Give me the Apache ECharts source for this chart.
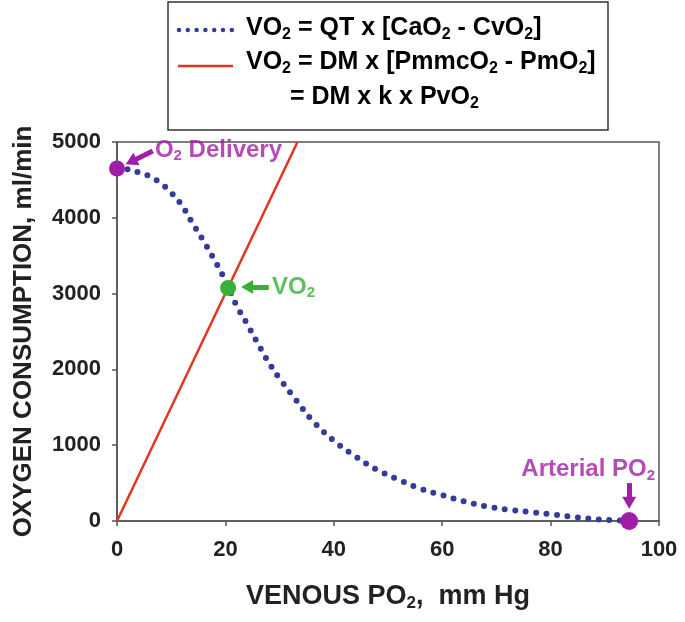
<!DOCTYPE html>
<html>
<head>
<meta charset="utf-8">
<script src="https://cdn.jsdelivr.net/npm/echarts@6/dist/echarts.min.js"></script>
<style>html,body{margin:0;padding:0;background:#fff;}#c{width:685px;height:622px;}</style>
</head>
<body>
<div id="c"></div>
<script>
// ---- data ----
var xTicks = [0, 20, 40, 60, 80, 100];
var yTicks = [0, 1000, 2000, 3000, 4000, 5000];
// VO2 = QT x [CaO2 - CvO2]  (blue dotted curve)
var curvePO2 = [0, 2, 4, 6, 8, 10, 12, 14, 16, 18, 20, 22, 24, 26, 28, 30, 33, 36, 40, 44, 48, 52, 56, 60, 64, 68, 72, 76, 80, 84, 88, 91, 94.5];
var curveVO2 = [4650, 4640, 4600, 4550, 4460, 4330, 4160, 3920, 3690, 3440, 3170, 2850, 2600, 2340, 2090, 1880, 1600, 1330, 1060, 850, 675, 545, 425, 340, 260, 195, 150, 120, 90, 55, 25, 12, 0];
// VO2 = DM x k x PvO2 (red straight line)
var linePO2 = [0, 33.3];
var lineVO2 = [0, 5000];
// marked points
var deliveryPt = [0, 4650];
var vo2Pt = [20.5, 3075];
var arterialPt = [94.5, 0];

var BLUE = '#353b9b', RED = '#e2371f', PURPLE = '#a11fa6', GREEN = '#36b236';
var FONT = 'Liberation Sans, Arial, sans-serif';

function zip(a, b) { return a.map(function (v, i) { return [v, b[i]]; }); }

function richSet(color, size) {
  return {
    m: { fontFamily: FONT, fontWeight: 'bold', fontSize: size, color: color, lineHeight: size + 4 },
    s: { fontFamily: FONT, fontWeight: 'bold', fontSize: Math.round(size * 0.62), color: color, padding: [Math.round(size * 0.5), 0, 0, 0], lineHeight: size + 4 }
  };
}

var chart = echarts.init(document.getElementById('c'), null, { renderer: 'canvas' });

var option = {
  animation: false,
  backgroundColor: '#fff',
  grid: { left: 117, top: 142, right: 26, bottom: 101, show: true, borderColor: '#555', borderWidth: 1.5, backgroundColor: 'transparent' },
  xAxis: {
    type: 'value', min: 0, max: 100, interval: 20,
    name: '{m|VENOUS PO}{s|2}{m|,  mm Hg}',
    nameLocation: 'middle', nameGap: 60,
    nameTextStyle: { rich: richSet('#222', 27) },
    axisLine: { lineStyle: { color: '#555', width: 1.5 } },
    axisTick: { show: true, inside: false, length: 5, lineStyle: { color: '#555', width: 1.5 } },
    axisLabel: { margin: 18, fontFamily: FONT, fontWeight: 'bold', fontSize: 22, color: '#222' },
    splitLine: { show: false }
  },
  yAxis: {
    type: 'value', min: 0, max: 5000, interval: 1000,
    name: 'OXYGEN CONSUMPTION, ml/min',
    nameLocation: 'middle', nameGap: 80,
    nameTextStyle: { fontFamily: FONT, fontWeight: 'bold', fontSize: 26, color: '#222' },
    axisLine: { show: true, lineStyle: { color: '#555', width: 1.5 } },
    axisTick: { show: true, inside: false, length: 5, lineStyle: { color: '#555', width: 1.5 } },
    axisLabel: { margin: 16, fontFamily: FONT, fontWeight: 'bold', fontSize: 22, color: '#222', formatter: function (v) { return String(v); } },
    splitLine: { show: false }
  },
  series: [
    {
      type: 'line', name: 'QT', data: zip(curvePO2, curveVO2), smooth: 0.4, showSymbol: false, clip: false,
      lineStyle: { color: BLUE, width: 6, type: [0, 10.5], cap: 'round' }, z: 2
    },
    {
      type: 'line', name: 'DM', data: zip(linePO2, lineVO2), showSymbol: false, clip: false,
      lineStyle: { color: RED, width: 2.5 }, z: 3
    },
    {
      type: 'scatter', clip: false, z: 5,
      itemStyle: { opacity: 1 },
      data: [
        { value: deliveryPt, symbolSize: 16, itemStyle: { color: PURPLE, opacity: 1 } },
        { value: vo2Pt, symbolSize: 16, itemStyle: { color: GREEN, opacity: 1 } },
        { value: arterialPt, symbolSize: 18, itemStyle: { color: PURPLE, opacity: 1 } }
      ],
      markLine: {
        silent: true, symbol: ['none', 'triangle'], symbolSize: [14, 12], label: { show: false },
        data: [
          [{ coord: [6.6, 4880], lineStyle: { color: PURPLE, width: 5, type: 'solid', opacity: 1 } }, { coord: [2.6, 4740] }],
          [{ coord: [28.0, 3087], lineStyle: { color: GREEN, width: 5, type: 'solid', opacity: 1 } }, { coord: [24.0, 3087] }],
          [{ coord: [94.5, 500], lineStyle: { color: PURPLE, width: 5, type: 'solid', opacity: 1 } }, { coord: [94.5, 240] }]
        ]
      }
    },
    {
      type: 'scatter', clip: false, z: 6, symbolSize: 0, silent: true,
      data: [
        { value: [7.0, 4894], label: { show: true, position: 'right', distance: 0, formatter: '{m|O}{s|2}{m| Delivery}', rich: richSet(PURPLE, 24) } },
        { value: [28.6, 3087], label: { show: true, position: 'right', distance: 0, formatter: '{m|VO}{s|2}', rich: richSet(GREEN, 24) } },
        { value: [74.6, 680], label: { show: true, position: 'right', distance: 0, formatter: '{m|Arterial PO}{s|2}', rich: richSet(PURPLE, 24) } }
      ]
    }
  ],
  graphic: [
    { type: 'rect', shape: { x: 168, y: 2, width: 440, height: 128 }, style: { fill: '#fff', stroke: '#333', lineWidth: 1.5 }, z: 10 },
    { type: 'line', shape: { x1: 179, y1: 30, x2: 233, y2: 30 }, style: { stroke: BLUE, lineWidth: 4.5, lineDash: [0, 8.8], lineCap: 'round' }, z: 11 },
    { type: 'line', shape: { x1: 178, y1: 66, x2: 233, y2: 66 }, style: { stroke: RED, lineWidth: 2.5 }, z: 11 },
    { type: 'text', x: 246, y: 28, z: 11, style: { text: '{m|VO}{s|2}{m| = QT x [CaO}{s|2}{m| - CvO}{s|2}{m|]}', rich: richSet(BLUE, 25), verticalAlign: 'middle' } },
    { type: 'text', x: 246, y: 62, z: 11, style: { text: '{m|VO}{s|2}{m| = DM x [PmmcO}{s|2}{m| - PmO}{s|2}{m|]}', rich: richSet(RED, 25), verticalAlign: 'middle' } },
    { type: 'text', x: 290, y: 97, z: 11, style: { text: '{m|= DM x k x PvO}{s|2}', rich: richSet(RED, 25), verticalAlign: 'middle' } }
  ]
};
chart.setOption(option);
</script>
</body>
</html>
